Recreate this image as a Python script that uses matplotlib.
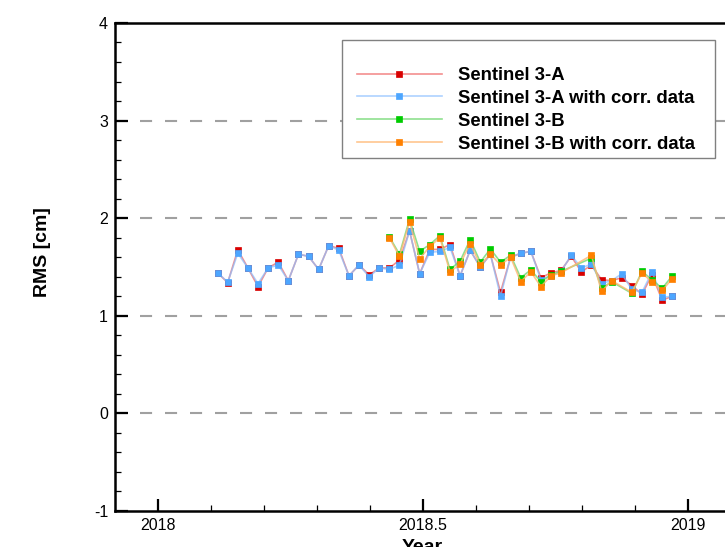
import matplotlib
matplotlib.use("Agg")
import numpy as np
import matplotlib.pyplot as plt
from matplotlib.patches import Rectangle
from matplotlib.ticker import MultipleLocator

plt.rcParams['font.family'] = ['Liberation Sans', 'DejaVu Sans']
plt.rcParams['axes.unicode_minus'] = False

# --- DATA ---
years_s3a = [2018.1126, 2018.1317, 2018.1507, 2018.1698, 2018.1888, 2018.2079,
             2018.2270, 2018.2460, 2018.2651, 2018.2841, 2018.3032, 2018.3223,
             2018.3413, 2018.3604, 2018.3794, 2018.3985, 2018.4176, 2018.4366,
             2018.4557, 2018.4747, 2018.4938, 2018.5129, 2018.5319, 2018.5510,
             2018.5700, 2018.5891, 2018.6082, 2018.6272, 2018.6463, 2018.6653,
             2018.6844, 2018.7035, 2018.7225, 2018.7416, 2018.7606, 2018.7797,
             2018.7988, 2018.8178, 2018.8369, 2018.8559, 2018.8750, 2018.8941,
             2018.9131, 2018.9322, 2018.9512, 2018.9703]

rms_s3a = [1.44, 1.34, 1.675, 1.49, 1.30, 1.49, 1.55, 1.36, 1.63, 1.61,
           1.475, 1.72, 1.69, 1.41, 1.52, 1.42, 1.49, 1.49, 1.57, 1.87,
           1.43, 1.68, 1.68, 1.73, 1.41, 1.67, 1.50, 1.63, 1.24, 1.60,
           1.64, 1.66, 1.39, 1.44, 1.465, 1.61, 1.45, 1.52, 1.37, 1.36,
           1.39, 1.31, 1.22, 1.42, 1.16, 1.20]

rms_s3a_corr = [1.44, 1.345, 1.64, 1.49, 1.33, 1.49, 1.52, 1.36, 1.63, 1.61,
                1.475, 1.72, 1.67, 1.41, 1.52, 1.40, 1.49, 1.475, 1.52, 1.87,
                1.43, 1.65, 1.66, 1.70, 1.41, 1.67, 1.50, 1.63, 1.20, 1.60,
                1.64, 1.66, 1.37, 1.41, 1.455, 1.62, 1.49, 1.53, 1.33, 1.36,
                1.43, 1.27, 1.24, 1.45, 1.19, 1.20]

years_s3b = [2018.4366, 2018.4557, 2018.4747, 2018.4938, 2018.5129, 2018.5319,
             2018.5510, 2018.5700, 2018.5891, 2018.6082, 2018.6272, 2018.6463,
             2018.6653, 2018.6844, 2018.7035, 2018.7225, 2018.7416, 2018.7606,
             2018.8178, 2018.8369, 2018.8559, 2018.8941, 2018.9131, 2018.9322,
             2018.9512, 2018.9703]

rms_s3b = [1.81, 1.63, 1.99, 1.66, 1.73, 1.82, 1.475, 1.56, 1.78, 1.55,
           1.685, 1.55, 1.62, 1.39, 1.47, 1.35, 1.42, 1.455,
           1.59, 1.28, 1.35, 1.23, 1.455, 1.37, 1.28, 1.41]

rms_s3b_corr = [1.80, 1.61, 1.96, 1.585, 1.71, 1.80, 1.45, 1.53, 1.74, 1.52,
                1.635, 1.52, 1.60, 1.35, 1.45, 1.30, 1.41, 1.44,
                1.62, 1.25, 1.36, 1.24, 1.44, 1.345, 1.26, 1.38]

labels = ['Sentinel 3-A', 'Sentinel 3-A with corr. data',
          'Sentinel 3-B', 'Sentinel 3-B with corr. data']

# --- PLOT ---
W, H = 725, 547
fig = plt.figure(figsize=(W / 100, H / 100), dpi=100)
ax = fig.add_axes([0.1586, 0.0658, 0.9366, 0.8922])

series = [
    (years_s3a, rms_s3a, '#d80000', (0.94, 0.45, 0.45, 0.8)),
    (years_s3a, rms_s3a_corr, '#4da6ff', (0.55, 0.75, 1.0, 0.7)),
    (years_s3b, rms_s3b, '#00cc00', (0.45, 0.85, 0.45, 0.8)),
    (years_s3b, rms_s3b_corr, '#ff8000', (1.0, 0.72, 0.45, 0.8)),
]
for (xs, ys, mcol, lcol), lab in zip(series, labels):
    ax.plot(xs, ys, color=lcol, lw=1.2, marker='s', markersize=5,
            markerfacecolor=mcol, markeredgecolor=mcol, markeredgewidth=0.5,
            label=lab, zorder=3)

# dashed horizontal grid
for yv in [0, 1, 2, 3]:
    ax.axhline(yv, color='#a0a0a0', lw=1.5, dashes=(5.8, 6.2), zorder=1)

ax.set_xlim(2017.919, 2019.2)
ax.set_ylim(-1, 4)
ax.xaxis.set_major_locator(MultipleLocator(0.5))
ax.xaxis.set_minor_locator(MultipleLocator(0.1))
ax.yaxis.set_major_locator(MultipleLocator(1))
ax.yaxis.set_minor_locator(MultipleLocator(0.2))
ax.xaxis.set_major_formatter(plt.FuncFormatter(lambda v, p: f"{v:g}"))
ax.tick_params(which='major', direction='in', length=9, width=1.6, labelsize=11.5, pad=5)
ax.tick_params(which='minor', direction='in', length=4.5, width=0.9)
for sp in ax.spines.values():
    sp.set_linewidth(1.8)

ax.set_ylabel('RMS [cm]', fontsize=14, fontweight='bold')
ax.yaxis.set_label_coords(-0.094, 0.531)
ax.set_xlabel('Year', fontsize=14, fontweight='bold')
ax.xaxis.set_label_coords(0.452, -0.058)
ax.xaxis.label.set_va('top')

# legend box drawn by hand, legend entries without frame
box = Rectangle((342 / W, 1 - 158 / H), (715 - 342) / W, (158 - 40) / H,
                transform=fig.transFigure, facecolor='white', edgecolor='#808080',
                lw=1.0, zorder=4.5, clip_on=False)
ax.add_artist(box)
leg = ax.legend(loc='upper left', bbox_to_anchor=(357 / W, 1 - 67 / H),
                bbox_transform=fig.transFigure, borderaxespad=0, borderpad=0,
                frameon=False, prop={'weight': 'bold', 'size': 13.3},
                handlelength=4.6, handletextpad=0.85, labelspacing=0.32)
leg.set_zorder(5)

fig.savefig('out.png', dpi=100)
